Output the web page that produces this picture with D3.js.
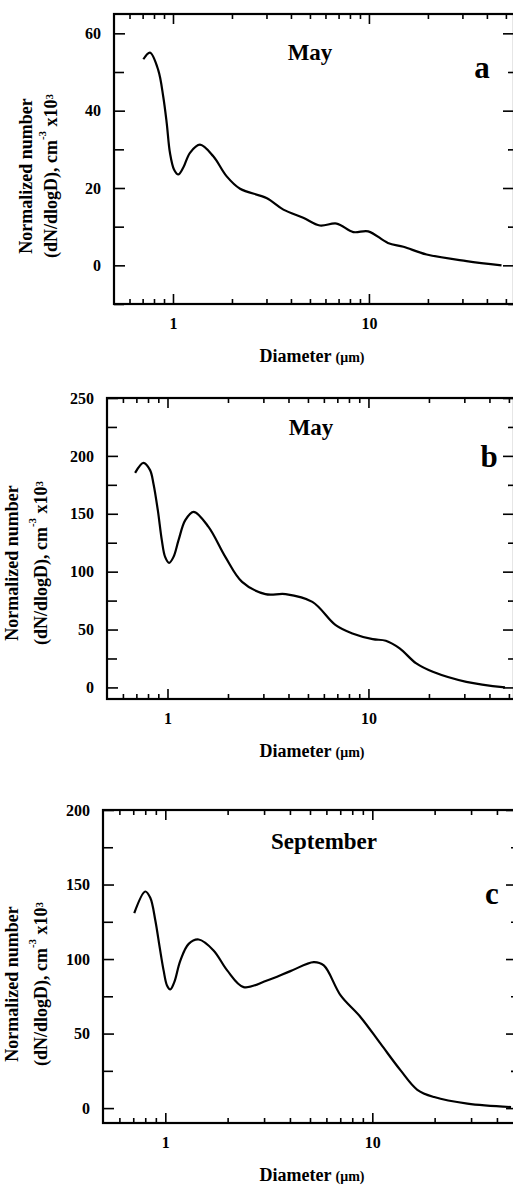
<!DOCTYPE html>
<html>
<head>
<meta charset="utf-8">
<script src="https://cdn.jsdelivr.net/npm/d3@7"></script>
<style>
  body { margin: 0; background: #fff; }
  svg { display: block; }
  text { font-family: "Liberation Serif", "Times New Roman", serif; font-weight: bold; fill: #000; }
</style>
</head>
<body>
<script>
// panel a - May
var diamA = [0.706, 0.763, 0.841, 0.892, 0.929, 0.965, 1.012, 1.064, 1.129, 1.221, 1.373, 1.606, 1.88, 2.2, 3.0, 3.66, 4.62, 5.62, 6.84, 8.32, 9.92, 12.5, 15.0, 19.7, 31.5, 47.5];
var valsA = [53.3, 55.0, 50.5, 43.6, 36.8, 29.1, 24.8, 23.5, 25.3, 29.1, 31.2, 28.2, 23.0, 19.8, 17.4, 14.4, 12.3, 10.3, 10.8, 8.6, 8.8, 5.8, 4.8, 2.8, 1.1, 0.0];
// panel b - May
var diamB = [0.69, 0.759, 0.819, 0.851, 0.895, 0.937, 0.973, 1.019, 1.072, 1.135, 1.226, 1.349, 1.6, 1.94, 2.35, 3.07, 3.87, 5.26, 6.87, 8.32, 10.5, 12.2, 14.3, 17.3, 20.9, 30.7, 47.8];
var valsB = [185.3, 194, 187.7, 176.2, 153.1, 127.2, 112.8, 107.6, 112.8, 127.2, 144.5, 151.7, 138.7, 112.8, 91.2, 80.6, 80.6, 73.9, 53.8, 46.6, 41.7, 40.3, 33.7, 20.7, 13.5, 4.8, 0.0];
// panel c - September
var diamC = [0.708, 0.8, 0.846, 0.895, 0.939, 0.981, 1.019, 1.057, 1.105, 1.182, 1.297, 1.449, 1.71, 1.99, 2.39, 3.1, 4.02, 5.21, 5.83, 7.03, 8.78, 10.96, 13.7, 16.5, 19.9, 28.8, 46.8];
var valsC = [130.8, 145.3, 141.1, 125.9, 108, 92.4, 82.3, 79.6, 84.5, 99, 110.2, 113.1, 105.8, 92.4, 81.2, 85.6, 91.9, 97.9, 95.7, 75.6, 61, 43.2, 25.3, 12.3, 7.4, 3.0, 0.7];

var xMajor = [1, 10];
var xMinor = [0.6, 0.7, 0.8, 0.9, 2, 3, 4, 5, 6, 7, 8, 9, 20, 30, 40, 50];
var yMajorA = [0, 20, 40, 60], yMinorA = [-10, 10, 30, 50];
var yMajorB = [0, 50, 100, 150, 200, 250], yMinorB = [25, 75, 125, 175, 225];
var yMajorC = [0, 50, 100, 150, 200], yMinorC = [25, 75, 125, 175];

var titles = ["May", "May", "September"];
var letters = ["a", "b", "c"];

var panels = [
  {x: diamA, y: valsA, xDom: [0.5, 55], yDom: [-10, 65], yMaj: yMajorA, yMin: yMinorA,
   left: 114, right: 514, top: 14, bottom: 304, titleX: 310, titleY: 60, letX: 482, letY: 78,
   lab1: 32, lab2: 57, labY: 176},
  {x: diamB, y: valsB, xDom: [0.5, 53], yDom: [-10, 250], yMaj: yMajorB, yMin: yMinorB,
   left: 107, right: 514, top: 398, bottom: 699, titleX: 311, titleY: 435, letX: 489, letY: 467,
   lab1: 18, lab2: 47, labY: 563},
  {x: diamC, y: valsC, xDom: [0.5, 50], yDom: [-10, 200], yMaj: yMajorC, yMin: yMinorC,
   left: 103, right: 517, top: 810, bottom: 1123, titleX: 324, titleY: 849, letX: 492, letY: 904,
   lab1: 18, lab2: 47, labY: 984}
];

var svg = d3.select("body").append("svg")
  .attr("width", 513)
  .attr("height", 1189);

panels.forEach(function(p, i) {
  var xScale = d3.scaleLog().domain(p.xDom).range([p.left, p.right]);
  var yScale = d3.scaleLinear().domain(p.yDom).range([p.bottom, p.top]);
  var g = svg.append("g");

  function styleAxis(sel) {
    sel.select(".domain").remove();
    sel.selectAll("line").attr("stroke", "#000").attr("stroke-width", 1.6);
    sel.selectAll("text").attr("font-size", 16);
  }

  // left axis (inward ticks)
  g.append("g").attr("transform", "translate(" + p.left + ",0)")
    .call(d3.axisLeft(yScale).tickValues(p.yMaj).tickSize(-11).tickPadding(13).tickFormat(d3.format("d")))
    .call(styleAxis);
  g.append("g").attr("transform", "translate(" + p.left + ",0)")
    .call(d3.axisLeft(yScale).tickValues(p.yMin).tickSize(-10).tickFormat(""))
    .call(styleAxis);
  // right axis
  g.append("g").attr("transform", "translate(" + p.right + ",0)")
    .call(d3.axisRight(yScale).tickValues(p.yMaj).tickSize(-11).tickFormat(""))
    .call(styleAxis);
  g.append("g").attr("transform", "translate(" + p.right + ",0)")
    .call(d3.axisRight(yScale).tickValues(p.yMin).tickSize(-6).tickFormat(""))
    .call(styleAxis);
  // bottom axis
  g.append("g").attr("transform", "translate(0," + p.bottom + ")")
    .call(d3.axisBottom(xScale).tickValues(xMajor).tickSize(-10).tickPadding(14).tickFormat(d3.format("d")))
    .call(styleAxis);
  g.append("g").attr("transform", "translate(0," + p.bottom + ")")
    .call(d3.axisBottom(xScale).tickValues(xMinor).tickSize(-5).tickFormat(""))
    .call(styleAxis);
  // top axis
  g.append("g").attr("transform", "translate(0," + p.top + ")")
    .call(d3.axisTop(xScale).tickValues(xMajor).tickSize(-10).tickFormat(""))
    .call(styleAxis);
  g.append("g").attr("transform", "translate(0," + p.top + ")")
    .call(d3.axisTop(xScale).tickValues(xMinor).tickSize(-5).tickFormat(""))
    .call(styleAxis);

  // frame
  g.append("rect")
    .attr("x", p.left).attr("y", p.top)
    .attr("width", p.right - p.left).attr("height", p.bottom - p.top)
    .attr("fill", "none").attr("stroke", "#000").attr("stroke-width", 2.2);

  // curve
  var pts = p.x.map(function(d, k) { return [d, p.y[k]]; });
  var line = d3.line()
    .x(function(d) { return xScale(d[0]); })
    .y(function(d) { return yScale(d[1]); })
    .curve(d3.curveCatmullRom.alpha(0.5));
  g.append("path").datum(pts)
    .attr("d", line)
    .attr("fill", "none")
    .attr("stroke", "#000")
    .attr("stroke-width", 2.2);

  // titles
  g.append("text").attr("x", p.titleX).attr("y", p.titleY)
    .attr("text-anchor", "middle").attr("font-size", 23).text(titles[i]);
  g.append("text").attr("x", p.letX).attr("y", p.letY)
    .attr("text-anchor", "middle").attr("font-size", 31).text(letters[i]);

  // x label
  var xl = g.append("text").attr("x", 312).attr("y", p.bottom + 58)
    .attr("text-anchor", "middle").attr("font-size", 18);
  xl.append("tspan").text("Diameter ");
  xl.append("tspan").attr("font-size", 14).text("(μm)");

  // y label
  g.append("text")
    .attr("transform", "translate(" + p.lab1 + "," + p.labY + ") rotate(-90)")
    .attr("text-anchor", "middle").attr("font-size", 18)
    .text("Normalized number");
  var yl = g.append("text")
    .attr("transform", "translate(" + p.lab2 + "," + p.labY + ") rotate(-90)")
    .attr("text-anchor", "middle").attr("font-size", 18);
  yl.append("tspan").text("(dN/dlogD), cm");
  yl.append("tspan").attr("font-size", 11).attr("dy", -11).text("-3");
  yl.append("tspan").attr("dy", 11).text(" x10");
  yl.append("tspan").attr("font-size", 11).attr("dy", -4).text("3");
});
</script>
</body>
</html>
